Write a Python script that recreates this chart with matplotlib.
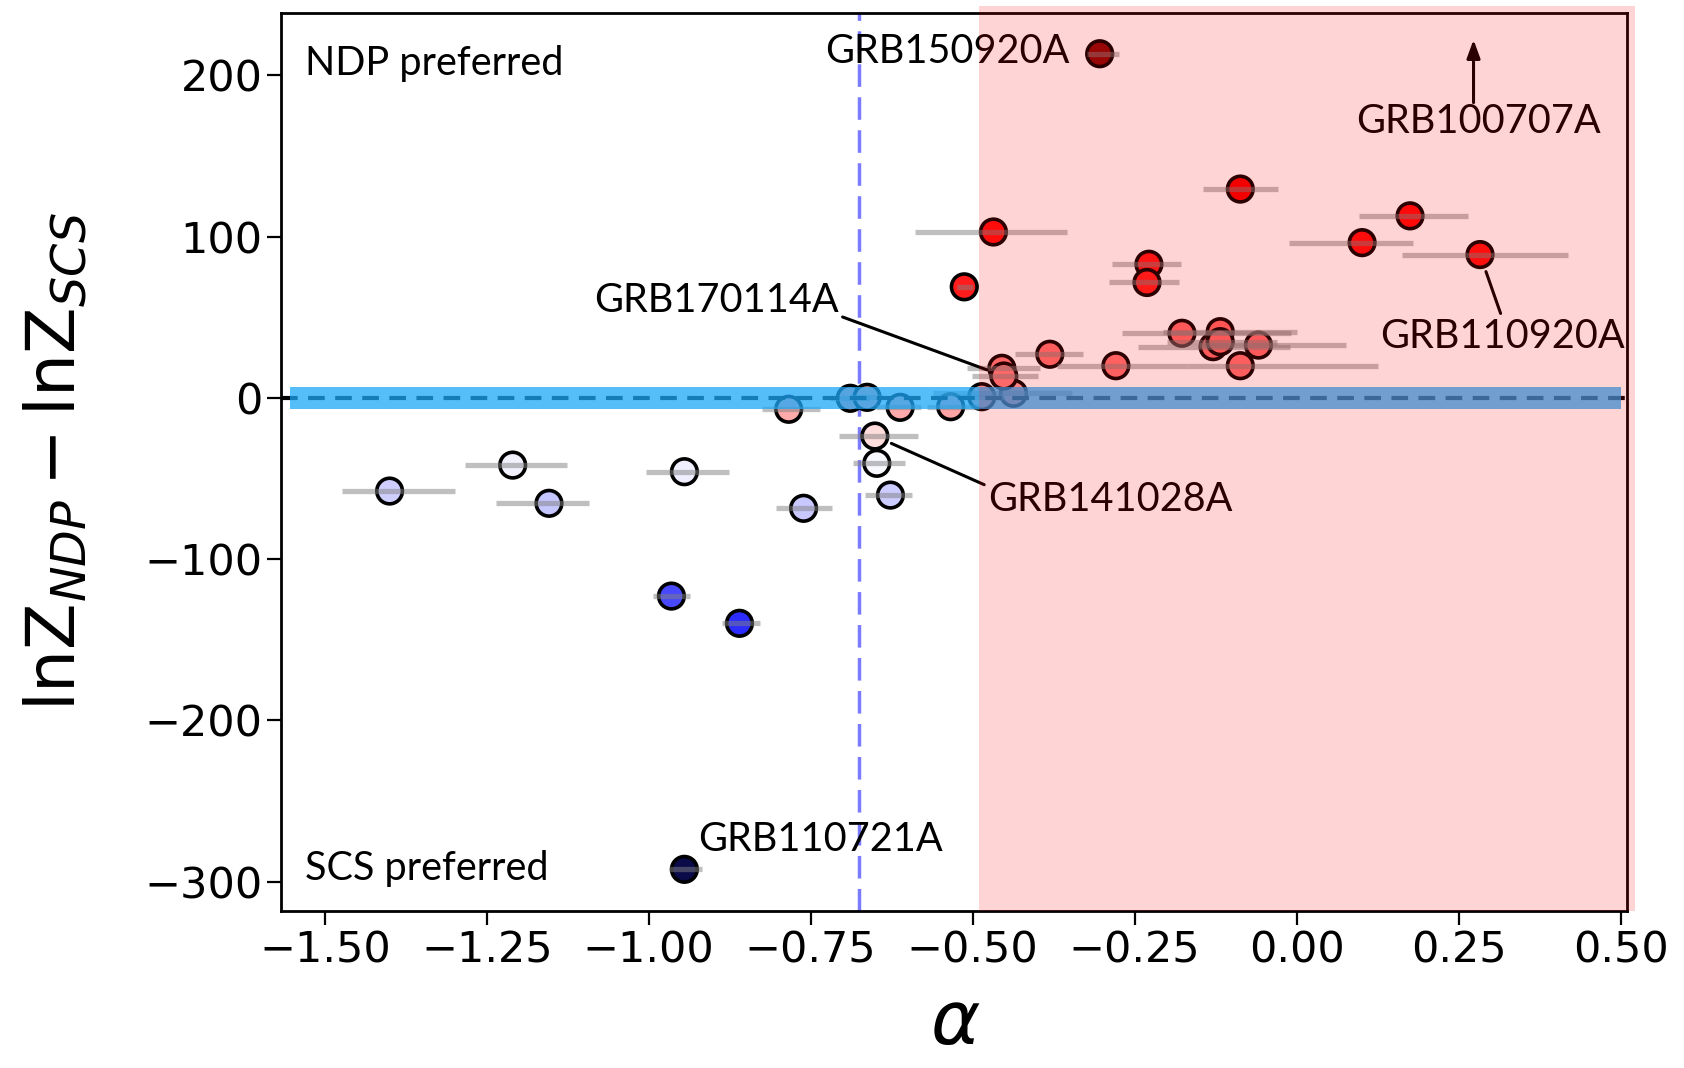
import matplotlib
matplotlib.use("Agg")
import matplotlib.pyplot as plt
from matplotlib.patches import Rectangle
import numpy as np

plt.rcParams["mathtext.fontset"] = "dejavusans"

# spectral index alpha, horizontal error range, lnZ difference, marker colour
alpha = [-1.400, -1.210, -1.154, -0.945, -0.965, -0.860, -0.945, -0.761,
         -0.784, -0.689, -0.663, -0.612, -0.534, -0.486, -0.437, -0.651,
         -0.648, -0.627, -0.455, -0.452, -0.381, -0.279, -0.177, -0.118,
         -0.129, -0.118, -0.059, -0.087, -0.513, -0.468, -0.304, -0.228,
         -0.231, -0.087, 0.101, 0.175, 0.283]
alpha_lo = [-1.474, -1.284, -1.235, -1.004, -0.994, -0.887, -0.969, -0.804,
            -0.825, -0.720, -0.690, -0.650, -0.570, -0.520, -0.561, -0.707,
            -0.685, -0.666, -0.509, -0.501, -0.435, -0.370, -0.270, -0.206,
            -0.245, -0.200, -0.150, -0.167, -0.525, -0.589, -0.323, -0.285,
            -0.290, -0.144, -0.012, 0.096, 0.162]
alpha_hi = [-1.299, -1.126, -1.093, -0.876, -0.936, -0.828, -0.918, -0.717,
            -0.735, -0.660, -0.640, -0.580, -0.490, -0.450, -0.347, -0.584,
            -0.604, -0.594, -0.396, -0.399, -0.329, -0.167, -0.008, 0.000,
            -0.010, -0.030, 0.076, 0.126, -0.500, -0.355, -0.274, -0.178,
            -0.181, -0.029, 0.179, 0.265, 0.419]
dlnz = [-57.8, -41.7, -65.4, -45.8, -122.9, -139.8, -292.3, -68.5,
        -7.1, -0.3, 0.3, -5.9, -5.5, 0.7, 2.8, -23.7,
        -40.6, -60.3, 18.3, 13.5, 27.0, 19.9, 40.0, 41.0,
        31.7, 34.8, 32.7, 19.9, 68.8, 102.8, 213.3, 82.8,
        71.5, 129.4, 96.2, 112.8, 88.8]
point_colors = ["#cfcfff", "#f2f2ff", "#c6c6ff", "#efefff", "#4848ff", "#2c2cff", "#0b0b4a", "#c8c8ff",
                "#ffaaaa", "#ff9c9c", "#ffa0a0", "#ffaaaa", "#ffa4a4", "#ffa0a0", "#ffa0a0", "#ffdcdc",
                "#f8f8ff", "#ccccff", "#ff7a7a", "#ff7f7f", "#ff7272", "#ff7474", "#ff6a6a", "#ff6666",
                "#ff6c6c", "#ff6868", "#ff6c6c", "#ff7272", "#ff1c1c", "#ff1010", "#850808", "#ff1818",
                "#ff2020", "#f20000", "#ff1010", "#ff0c0c", "#ff1212"]

labels = {
    "GRB150920A": 30,
    "GRB170114A": 19,
    "GRB141028A": 15,
    "GRB110920A": 36,
    "GRB110721A": 6,
}

alpha = np.array(alpha)
dlnz = np.array(dlnz)
xerr = [alpha - np.array(alpha_lo), np.array(alpha_hi) - alpha]

fig = plt.figure(figsize=(16.84, 10.68), dpi=100)
ax = fig.add_axes([0.1671, 0.1472, 0.7991, 0.8407])

ax.axvline(-0.675, color="#7b7bff", lw=2.5, dashes=(6.5, 3), zorder=2)
ax.scatter(alpha, dlnz, s=340, c=point_colors, edgecolors="k", linewidths=2.6, zorder=3)
ax.errorbar(alpha, dlnz, xerr=xerr, fmt="none", ecolor="grey", elinewidth=3.8, alpha=0.5, zorder=4)

ax.axhline(0, color="k", lw=3, dashes=(4, 2.5), zorder=4.5)
ax.fill_between([-1.553, 0.5], -7, 7, color="#1ca8f8", alpha=0.75, lw=0, zorder=5)

tfont = dict(family=["Lato", "DejaVu Sans"], fontsize=28.5)
ax.text(-1.53, 207, "NDP preferred", ha="left", va="center", zorder=6, **tfont)
ax.text(-1.53, -291.5, "SCS preferred", ha="left", va="center", zorder=6, **tfont)

ax.text(-0.350, 214.6, "GRB150920A", ha="right", va="center", zorder=6, **tfont)
ax.text(-0.924, -274, "GRB110721A", ha="left", va="center", zorder=6, **tfont)

lp = dict(arrowstyle="-", color="k", lw=2.2, shrinkA=1, shrinkB=13)
i = labels["GRB170114A"]
ax.annotate("GRB170114A", xy=(alpha[i], dlnz[i]), xytext=(-0.896, 60.2),
            ha="center", va="center", zorder=6,
            arrowprops=dict(relpos=(1.0, 0.1), **lp), **tfont)
i = labels["GRB141028A"]
ax.annotate("GRB141028A", xy=(alpha[i], dlnz[i]), xytext=(-0.476, -63),
            ha="left", va="center", zorder=6,
            arrowprops=dict(relpos=(0.0, 0.85), **lp), **tfont)
i = labels["GRB110920A"]
ax.annotate("GRB110920A", xy=(alpha[i], dlnz[i]), xytext=(0.317, 38.3),
            ha="center", va="center", zorder=6,
            arrowprops=dict(relpos=(0.5, 1.0), **lp), **tfont)

# off-scale burst
ax.annotate("", xy=(0.273, 222), xytext=(0.273, 183),
            arrowprops=dict(arrowstyle="-|>,head_length=1.1,head_width=0.4", color="k", lw=2.2,
                            shrinkA=0, shrinkB=0), zorder=6)
ax.text(0.281, 171.4, "GRB100707A", ha="center", va="center", zorder=6, **tfont)

ax.set_xlim(-1.567, 0.51)
ax.set_ylim(-318, 238.6)
ax.set_xticks([-1.5, -1.25, -1.0, -0.75, -0.5, -0.25, 0.0, 0.25, 0.5])
ax.set_yticks([-300, -200, -100, 0, 100, 200])
ax.tick_params(labelsize=31, length=10, width=1.6)
for s in ax.spines.values():
    s.set_linewidth(2)
ax.set_xlabel(r"$\alpha$", fontsize=54)
ax.set_ylabel(r"$\mathrm{lnZ}_{NDP} - \mathrm{lnZ}_{SCS}$", fontsize=49)
ax.xaxis.set_label_coords(0.501, -0.085)
ax.yaxis.set_label_coords(-0.143, 0.5)

# shaded alpha > -0.5 region, laid over the whole panel
ax.add_patch(Rectangle((-0.49, 0), 0.522 + 0.49, 1.008, transform=ax.get_xaxis_transform(),
                       facecolor="red", alpha=0.17, lw=0, clip_on=False, zorder=20))

fig.savefig("out.png", dpi=100)
